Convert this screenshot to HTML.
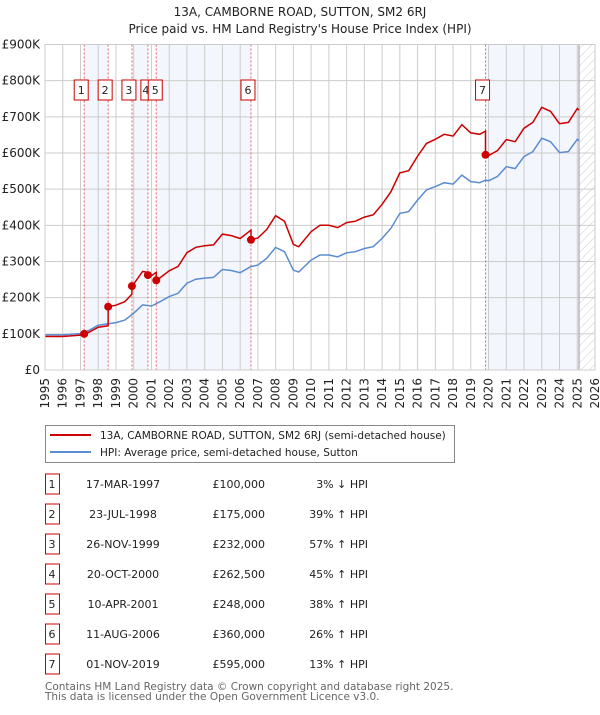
<!DOCTYPE html>
<html><head><meta charset="utf-8"><style>
body{margin:0;background:#fff;}
svg text{font-family:"DejaVu Sans","Liberation Sans",sans-serif;}
</style></head><body>
<svg id="c" width="600" height="710" xmlns="http://www.w3.org/2000/svg">
<defs><pattern id="hatch" width="6" height="6" patternUnits="userSpaceOnUse" patternTransform="rotate(45)"><line x1="0" y1="0" x2="0" y2="6" stroke="#ccc" stroke-width="1"/></pattern></defs>
<text x="300" y="16" text-anchor="middle" font-size="12" fill="#222">13A, CAMBORNE ROAD, SUTTON, SM2 6RJ</text>
<text x="300" y="33" text-anchor="middle" font-size="12" fill="#222">Price paid vs. HM Land Registry's House Price Index (HPI)</text>
<g id="plot"></g>
<g>
<rect x="45.5" y="425.5" width="409" height="37" fill="#fff" stroke="#888"/>
<line x1="50" y1="435" x2="91" y2="435" stroke="#cc0000" stroke-width="2"/>
<text x="100" y="439" font-size="10.5" fill="#222">13A, CAMBORNE ROAD, SUTTON, SM2 6RJ (semi-detached house)</text>
<line x1="50" y1="452" x2="91" y2="452" stroke="#5b8bd0" stroke-width="2"/>
<text x="100" y="456" font-size="10.5" fill="#222">HPI: Average price, semi-detached house, Sutton</text>
</g>
<g id="table"></g>
<text x="45" y="690" font-size="10.5" fill="#666">Contains HM Land Registry data © Crown copyright and database right 2025.</text>
<text x="45" y="700" font-size="10.5" fill="#666">This data is licensed under the Open Government Licence v3.0.</text>
</svg>
<script>
const hpiYears=[1995,1996,1997,1997.5,1998,1999,1999.5,2000,2000.5,2001,2001.5,2002,2002.5,2003,2003.5,2004,2004.5,2005,2005.5,2006,2006.6,2007,2007.5,2008,2008.5,2009,2009.3,2010,2010.5,2011,2011.5,2012,2012.5,2013,2013.5,2014,2014.5,2015,2015.5,2016,2016.5,2017,2017.5,2018,2018.5,2019,2019.5,2019.83,2020,2020.5,2021,2021.5,2022,2022.5,2023,2023.5,2024,2024.5,2025,2025.1];
const hpiValues=[97,97,101,110,124,131,138,157,180,177,189,203,212,240,251,254,256,278,275,269,286,290,309,339,327,276,271,304,318,318,313,324,327,336,341,364,392,433,438,470,498,507,518,514,539,521,518,525,523,535,562,557,590,604,641,631,601,604,638,634];
const saleLabels=["1","2","3","4","5","6","7"];
const saleDates=[1997.21,1998.56,1999.9,2000.8,2001.27,2006.61,2019.83];
const salePrices=[100,175,232,262.5,248,360,595];
const saleDateText=["17-MAR-1997","23-JUL-1998","26-NOV-1999","20-OCT-2000","10-APR-2001","11-AUG-2006","01-NOV-2019"];
const salePriceText=["£100,000","£175,000","£232,000","£262,500","£248,000","£360,000","£595,000"];
const saleHpiText=["3% ↓ HPI","39% ↑ HPI","57% ↑ HPI","45% ↑ HPI","38% ↑ HPI","26% ↑ HPI","13% ↑ HPI"];
const yTicks=[0,100,200,300,400,500,600,700,800,900];
const yTickLabels=["£0","£100K","£200K","£300K","£400K","£500K","£600K","£700K","£800K","£900K"];

const X0=45,X1=595,Y0=370,Y1=44.5,YR0=1995,YR1=2026,VMAX=900;
const xs=t=>X0+(t-YR0)/(YR1-YR0)*(X1-X0);
const ys=v=>Y0-v/VMAX*(Y0-Y1);
const NS="http://www.w3.org/2000/svg";
const plot=document.getElementById('plot');
function mk(tag,attrs,parent){const e=document.createElementNS(NS,tag);for(const k in attrs)e.setAttribute(k,attrs[k]);(parent||plot).appendChild(e);return e;}
function hpiAt(t){for(let i=0;i<hpiYears.length-1;i++){if(t<=hpiYears[i+1]){const f=(t-hpiYears[i])/(hpiYears[i+1]-hpiYears[i]);return hpiValues[i]+f*(hpiValues[i+1]-hpiValues[i]);}}return hpiValues[hpiValues.length-1];}

const lastT=hpiYears[hpiYears.length-1];
const bands=[[0,1],[2,3],[4,5],[6,null]];
bands.forEach(b=>{const a=saleDates[b[0]],e=b[1]==null?lastT:saleDates[b[1]];
const r=mk('rect',{x:xs(a),y:Y1,width:xs(e)-xs(a),height:Y0-Y1,fill:'#f3f6fd'});

});
const hr=mk('rect',{x:xs(lastT),y:Y1,width:X1-xs(lastT),height:Y0-Y1,fill:'url(#hatch)'});


for(let y=YR0;y<=YR1;y++){const l=mk('line',{x1:xs(y),x2:xs(y),y1:Y1,y2:Y0,stroke:'#ccc','stroke-width':1});


const t=mk('text',{x:0,y:0,'font-size':12,fill:'#222','text-anchor':'end',transform:`translate(${xs(y)+4},378) rotate(-90)`});t.textContent=y;

}
yTicks.forEach((v,i)=>{const l=mk('line',{x1:X0,x2:X1,y1:ys(v),y2:ys(v),stroke:'#ccc','stroke-width':1});


const t=mk('text',{x:40,y:ys(v)+4,'font-size':12,fill:'#222','text-anchor':'end'});t.textContent=yTickLabels[i];

});
const nowl=mk('line',{x1:xs(lastT),x2:xs(lastT),y1:Y1,y2:Y0,stroke:'#999','stroke-width':1});


saleDates.forEach(d=>{const l=mk('line',{x1:xs(d),x2:xs(d),y1:Y1,y2:Y0,stroke:'#e06060','stroke-width':1,'stroke-dasharray':'2,2'});

});
let pts=hpiYears.map((t,i)=>xs(t).toFixed(1)+','+ys(hpiValues[i]).toFixed(1)).join(' ');
const hl=mk('polyline',{points:pts,fill:'none',stroke:'#5b8bd0','stroke-width':1.5});


function redAt(t){let k=0;for(let i=0;i<saleDates.length;i++)if(saleDates[i]<=t)k=i;return salePrices[k]*hpiAt(t)/hpiAt(saleDates[k]);}
let times=[...hpiYears];saleDates.forEach(d=>{times.push(d-0.001);times.push(d);});times.sort((a,b)=>a-b);
pts=times.map(t=>xs(t).toFixed(1)+','+ys(redAt(t)).toFixed(1)).join(' ');
const rl=mk('polyline',{points:pts,fill:'none',stroke:'#cc0000','stroke-width':1.5});


saleDates.forEach((d,i)=>{const c=mk('circle',{cx:xs(d),cy:ys(salePrices[i]),r:4,fill:'#cc0000'});


let cx=xs(d)-3;if(i==3)cx=xs(d)-2;if(i==4)cx=xs(d)-1;
const w=i==3?10:14;
mk('rect',{x:cx-w/2,y:80,width:w,height:20,fill:'#fff',stroke:'#cc0000','stroke-width':1});
const t=mk('text',{x:cx,y:94,'font-size':11,'text-anchor':'middle',fill:'#222'});t.textContent=saleLabels[i];

});
const ax=mk('rect',{x:X0,y:Y1,width:X1-X0,height:Y0-Y1,fill:'none',stroke:'#ccc'});


const tb=document.getElementById('table');
saleLabels.forEach((lab,i)=>{const cy=484+i*30;
mk('rect',{x:45.5,y:cy-10,width:14,height:20,fill:'#fff',stroke:'#cc0000'},tb);
const cells=[[52,'middle',lab],[123,'middle',saleDateText[i]],[265,'end',salePriceText[i]],[368,'end',saleHpiText[i]]];
cells.forEach(c=>{const t=mk('text',{x:c[0],y:cy+4,'font-size':11,'text-anchor':c[1],fill:'#222'},tb);t.textContent=c[2];

});});
</script>
</body></html>
